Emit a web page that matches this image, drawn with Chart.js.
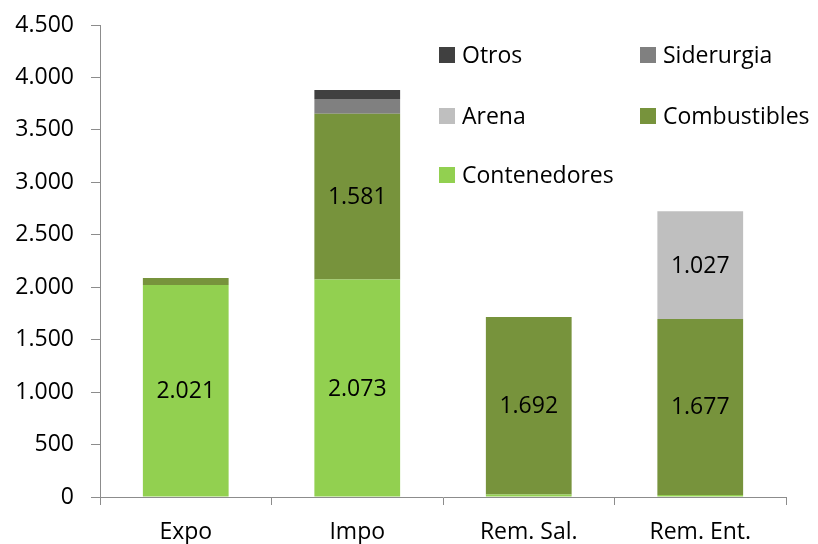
<!DOCTYPE html>
<html>
<head>
<meta charset="utf-8">
<script src="https://cdn.jsdelivr.net/npm/chart.js@4/dist/chart.umd.min.js"></script>
<style>
  html, body { margin: 0; padding: 0; background: #fff; }
  #wrap { position: relative; width: 818px; height: 544px; font-family: "Open Sans", Lato, sans-serif; }
  .lg { position: absolute; font-size: 23px; color: #000; line-height: 16px; white-space: nowrap; }
  .lg i { display: inline-block; width: 16px; height: 16px; vertical-align: top; margin-right: 7px; }
  .lg span { display: inline-block; vertical-align: top; margin-top: -1px; }
</style>
</head>
<body>
<div id="wrap">
  <canvas id="c" width="818" height="544"></canvas>
  <div id="legend"></div>
</div>
<script>
const categories = ['Expo', 'Impo', 'Rem. Sal.', 'Rem. Ent.'];
const contenedores = [2021, 2073, 25, 20];
const combustibles = [67, 1581, 1692, 1677];
const arena        = [0, 0, 0, 1027];
const siderurgia   = [0, 140, 0, 0];
const otros        = [0, 86, 0, 0];
const yTicks = [0, 500, 1000, 1500, 2000, 2500, 3000, 3500, 4000, 4500];

const FONT = '"Open Sans", Lato, sans-serif';
const FSIZE = 23;
const AXIS = '#8c8c8c';

// separador de miles con punto (Intl es-ES no agrupa 4 cifras)
const fmtNum = v => String(Math.round(v)).replace(/\B(?=(\d{3})+(?!\d))/g, '.');

const series = [
  { label: 'Contenedores', data: contenedores, color: '#92D050' },
  { label: 'Combustibles', data: combustibles, color: '#77933C' },
  { label: 'Arena',        data: arena,        color: '#BFBFBF' },
  { label: 'Siderurgia',   data: siderurgia,   color: '#808080' },
  { label: 'Otros',        data: otros,        color: '#404040' },
];

// etiquetas dentro de los segmentos grandes
const segLabels = {
  id: 'segLabels',
  afterDatasetsDraw(chart) {
    const ctx = chart.ctx;
    ctx.save();
    ctx.font = FSIZE + 'px ' + FONT;
    ctx.fillStyle = '#000';
    ctx.textAlign = 'center';
    ctx.textBaseline = 'middle';
    chart.data.datasets.forEach((ds, i) => {
      chart.getDatasetMeta(i).data.forEach((bar, j) => {
        const v = ds.data[j];
        if (v < 500) return;
        ctx.fillText(fmtNum(v), bar.x, (bar.y + bar.base) / 2 + 1);
      });
    });
    ctx.restore();
  }
};

new Chart(document.getElementById('c'), {
  type: 'bar',
  data: {
    labels: categories,
    datasets: series.map(s => ({
      label: s.label,
      data: s.data,
      backgroundColor: s.color,
      borderWidth: 0,
      categoryPercentage: 1,
      barPercentage: 0.5,
    })),
  },
  options: {
    responsive: false,
    animation: false,
    layout: { padding: { top: 25, right: 32, bottom: 0, left: 0 } },
    plugins: { legend: { display: false }, tooltip: { enabled: false } },
    scales: {
      x: {
        stacked: true,
        afterFit: s => { s.height = 47; s.paddingLeft = 0; s.paddingRight = 0; },
        grid: { drawOnChartArea: false, offset: true, tickLength: 8, color: AXIS },
        border: { color: AXIS },
        ticks: { color: '#000', font: { family: FONT, size: FSIZE }, padding: 14, maxRotation: 0 },
      },
      y: {
        stacked: true,
        min: 0, max: 4500,
        afterFit: s => { s.width = 100; s.paddingTop = 0; s.paddingBottom = 0; },
        afterBuildTicks: s => { s.ticks = yTicks.map(v => ({ value: v })); },
        grid: { drawOnChartArea: false, tickLength: 9, color: AXIS },
        border: { color: AXIS },
        ticks: { color: '#000', font: { family: FONT, size: FSIZE }, padding: 17, callback: v => fmtNum(v) },
      },
    },
  },
  plugins: [segLabels],
});

// leyenda en dos columnas, orden inverso como en el original
const legendItems = [
  { s: series[4], x: 439, y: 47 },
  { s: series[3], x: 640, y: 47 },
  { s: series[2], x: 439, y: 108 },
  { s: series[1], x: 640, y: 108 },
  { s: series[0], x: 439, y: 167 },
];
document.getElementById('legend').innerHTML = legendItems.map(it =>
  `<div class="lg" style="left:${it.x}px;top:${it.y}px"><i style="background:${it.s.color}"></i><span>${it.s.label}</span></div>`
).join('');
</script>
</body>
</html>
